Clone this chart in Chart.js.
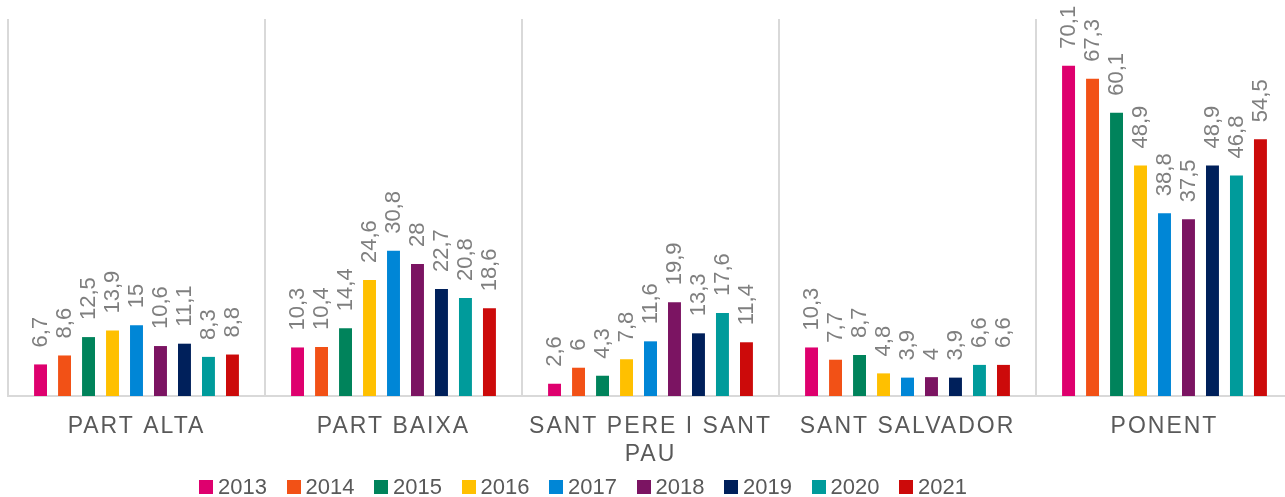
<!DOCTYPE html>
<html>
<head>
<meta charset="utf-8">
<script src="https://cdn.jsdelivr.net/npm/chart.js@4"></script>
<style>
  html, body { margin: 0; padding: 0; background: #fff; overflow: hidden; }
  #chartBox { position: relative; width: 1300px; height: 497px; }
  #legendBox { position: absolute; left: 199px; top: 475px; display: flex; font: 22px "Liberation Sans", Arial, sans-serif; color: #595959; }
  .item { width: 87.5px; display: flex; align-items: center; height: 23px; }
  .item span.box { width: 14px; height: 14px; margin-right: 5px; display: inline-block; }
</style>
</head>
<body>
<div id="chartBox">
  <canvas id="myChart"></canvas>
  <div id="legendBox"></div>
</div>
<script>
var districts = [["PART ALTA"], ["PART BAIXA"], ["SANT PERE I SANT", "PAU"], ["SANT SALVADOR"], ["PONENT"]];
var years = ["2013", "2014", "2015", "2016", "2017", "2018", "2019", "2020", "2021"];
var colors = ["#DE006E", "#F25116", "#00835B", "#FFC000", "#0086D6", "#7B1462", "#00205B", "#009B9B", "#CC0A0A"];

// one array per year: Part Alta, Part Baixa, Sant Pere i Sant Pau, Sant Salvador, Ponent
var v2013 = [6.7, 10.3, 2.6, 10.3, 70.1];
var v2014 = [8.6, 10.4, 6, 7.7, 67.3];
var v2015 = [12.5, 14.4, 4.3, 8.7, 60.1];
var v2016 = [13.9, 24.6, 7.8, 4.8, 48.9];
var v2017 = [15, 30.8, 11.6, 3.9, 38.8];
var v2018 = [10.6, 28, 19.9, 4, 37.5];
var v2019 = [11.1, 22.7, 13.3, 3.9, 48.9];
var v2020 = [8.3, 20.8, 17.6, 6.6, 46.8];
var v2021 = [8.8, 18.6, 11.4, 6.6, 54.5];
var values = [v2013, v2014, v2015, v2016, v2017, v2018, v2019, v2020, v2021];

var yMax = 80;
var fontName = '"Liberation Sans", Arial, sans-serif';

var datasets = [];
for (var i = 0; i < years.length; i++) {
    datasets.push({
        label: years[i],
        data: values[i],
        backgroundColor: colors[i],
        categoryPercentage: 0.84,
        barPercentage: 0.54
    });
}

// vertical value labels above the bars
var barLabels = {
    id: 'barLabels',
    beforeDraw: function(chart) {
        chart.ctx.letterSpacing = '2px';
    },
    afterDatasetsDraw: function(chart) {
        var ctx = chart.ctx;
        ctx.save();
        ctx.letterSpacing = '0px';
        ctx.font = '22px ' + fontName;
        ctx.fillStyle = '#7f7f7f';
        ctx.textAlign = 'left';
        ctx.textBaseline = 'middle';
        chart.data.datasets.forEach(function(ds, di) {
            var meta = chart.getDatasetMeta(di);
            meta.data.forEach(function(bar, j) {
                var txt = String(ds.data[j]).replace('.', ',');
                ctx.save();
                ctx.translate(bar.x, bar.y - 17);
                ctx.rotate(-Math.PI / 2);
                ctx.fillText(txt, 0, 0);
                ctx.restore();
            });
        });
        ctx.restore();
        ctx.letterSpacing = '2px';
    }
};

const config = {
    type: 'bar',
    data: { labels: districts, datasets: datasets },
    options: {
        responsive: true,
        maintainAspectRatio: false,
        animation: false,
        layout: { padding: { left: 8, right: 7, top: 19, bottom: 0 } },
        plugins: {
            legend: { display: false },
            tooltip: { enabled: false }
        },
        scales: {
            x: {
                grid: { color: '#d9d9d9', lineWidth: 2, drawTicks: false, offset: true },
                border: { color: '#d9d9d9', width: 2 },
                ticks: {
                    color: '#595959',
                    font: { family: fontName, size: 23, lineHeight: 1.25 },
                    padding: 16,
                    maxRotation: 0,
                    autoSkip: false
                },
                afterFit: function(scale) { scale.height = 101; }
            },
            y: {
                display: false,
                min: 0,
                max: yMax
            }
        }
    },
    plugins: [barLabels]
};

const myChart = new Chart(document.getElementById('myChart'), config);

// legend
var legendBox = document.getElementById('legendBox');
for (var k = 0; k < years.length; k++) {
    var item = document.createElement('div');
    item.className = 'item';
    var box = document.createElement('span');
    box.className = 'box';
    box.style.background = colors[k];
    item.appendChild(box);
    item.appendChild(document.createTextNode(years[k]));
    legendBox.appendChild(item);
}
</script>
</body>
</html>
